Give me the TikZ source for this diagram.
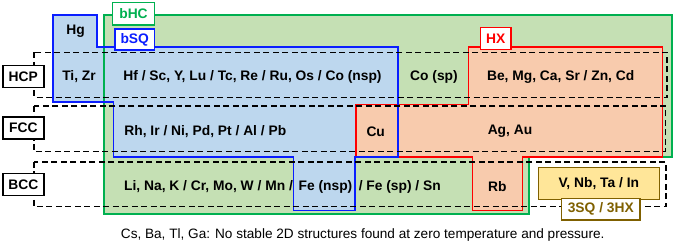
\documentclass[tikz,border=0pt]{standalone}
\usepackage{fontspec}
\setmainfont{Liberation Sans}
\definecolor{gfill}{HTML}{C5E0B4}
\definecolor{gline}{HTML}{00B050}
\definecolor{bfill}{HTML}{BDD7EE}
\definecolor{bline}{HTML}{0A1EFF}
\definecolor{rfill}{HTML}{F8CBAD}
\definecolor{rline}{HTML}{FF0000}
\definecolor{yfill}{HTML}{FFE699}
\definecolor{yline}{HTML}{7F6000}
\begin{document}
\begin{tikzpicture}[x=1pt,y=-1pt,
  region/.style={line width=1.6pt, line join=miter},
  rowbox/.style={draw=black, line width=1.5pt, dash pattern=on 6pt off 3.5pt},
  lbl/.style={font=\fontsize{13.8}{16}\selectfont\bfseries, inner sep=0pt},
  tag/.style={draw, fill=white, line width=1.4pt, inner sep=0pt, font=\fontsize{13.8}{16}\selectfont\bfseries},
  rowtag/.style={tag, draw=black, minimum width=41pt, minimum height=22pt}]
\useasboundingbox (0,0) rectangle (673,250);
% fills
\fill[gfill] (104,15) -- (671.7,15) -- (671.7,156.7) -- (529,156.7) -- (529,214) -- (104,214) -- cycle;
\fill[bfill] (52.7,15) -- (96.7,15) -- (96.7,46.7) -- (397.7,46.7) -- (397.7,156.7) -- (355,156.7) -- (355,210.5) -- (293.3,210.5) -- (293.3,156.7) -- (113.3,156.7) -- (113.3,101.7) -- (52.7,101.7) -- cycle;
\fill[rfill] (468.3,46.7) -- (662.5,46.7) -- (662.5,156.7) -- (522.3,156.7) -- (522.3,210.5) -- (472.5,210.5) -- (472.5,156.7) -- (355.7,156.7) -- (355.7,104.3) -- (468.3,104.3) -- cycle;
% borders
\draw[region, draw=gline] (104,15) -- (671.7,15) -- (671.7,156.7) -- (529,156.7) -- (529,214) -- (104,214) -- cycle;
\draw[region, draw=rline] (468.3,46.7) -- (662.5,46.7) -- (662.5,156.7) -- (522.3,156.7) -- (522.3,210.5) -- (472.5,210.5) -- (472.5,156.7) -- (355.7,156.7) -- (355.7,104.3) -- (468.3,104.3) -- cycle;
\draw[region, draw=bline] (52.7,15) -- (96.7,15) -- (96.7,46.7) -- (397.7,46.7) -- (397.7,156.7) -- (355,156.7) -- (355,210.5) -- (293.3,210.5) -- (293.3,156.7) -- (113.3,156.7) -- (113.3,101.7) -- (52.7,101.7) -- cycle;
% yellow box
\node[draw=yline, fill=yfill, line width=1.6pt, minimum width=121pt, minimum height=32pt, inner sep=0pt, font=\fontsize{13.8}{16}\selectfont\bfseries] (ybox) at (598.8,183.3) {V, Nb, Ta / In};
% row boxes
\draw[rowbox] (34,52.3) rectangle (667,97.3);
\draw[rowbox] (34,106) rectangle (665.5,151.7);
\draw[rowbox] (34,161.9) rectangle (666,206.5);
% row tags
\node[rowtag] (hcp) at (23.3,76.7) {HCP};
\node[rowtag] (fcc) at (23.3,127.8) {FCC};
\node[rowtag] (bcc) at (23.3,184.5) {BCC};
% region tags
\node[tag, draw=gline, text=gline, minimum width=41.6pt, minimum height=22.3pt] (bhc) at (133.5,13.8) {bHC};
\node[tag, draw=bline, text=bline, minimum width=39.3pt, minimum height=21pt] (bsq) at (134.7,39.5) {bSQ};
\node[tag, draw=rline, text=rline, minimum width=30.3pt, minimum height=22pt] (hx) at (495.8,38.3) {HX};
\node[tag, draw=yline, text=yline, minimum width=78.3pt, minimum height=21.7pt] (sqhx) at (600.8,209.2) {3SQ / 3HX};
% texts
\node[lbl] (hg) at (75.5,31.5) {Hg};
\node[lbl] (tizr) at (79,77) {Ti, Zr};
\node[lbl] (hf) at (252.5,77) {Hf / Sc, Y, Lu / Tc, Re / Ru, Os / Co (nsp)};
\node[lbl] (cosp) at (434,77) {Co (sp)};
\node[lbl] (be) at (560.7,77) {Be, Mg, Ca, Sr / Zn, Cd};
\node[lbl] (rh) at (205.3,131.7) {Rh, Ir / Ni, Pd, Pt / Al / Pb};
\node[lbl] (cu) at (375.7,131.7) {Cu};
\node[lbl] (ag) at (510,131.7) {Ag, Au};
\node[lbl, anchor=west] (li) at (124,186.5) {Li, Na, K / Cr, Mo, W / Mn /};
\node[lbl] (fensp) at (325.5,186.5) {Fe (nsp)};
\node[lbl, anchor=east] (fesp) at (441,186.5) {/ Fe (sp) / Sn};
\node[lbl] (rb) at (497.3,186.5) {Rb};
\node[inner sep=0pt, font=\fontsize{13.6}{15}\selectfont] (cap) at (362.7,235) {Cs, Ba, Tl, Ga: No stable 2D structures found at zero temperature and pressure.};
\end{tikzpicture}
\end{document}
